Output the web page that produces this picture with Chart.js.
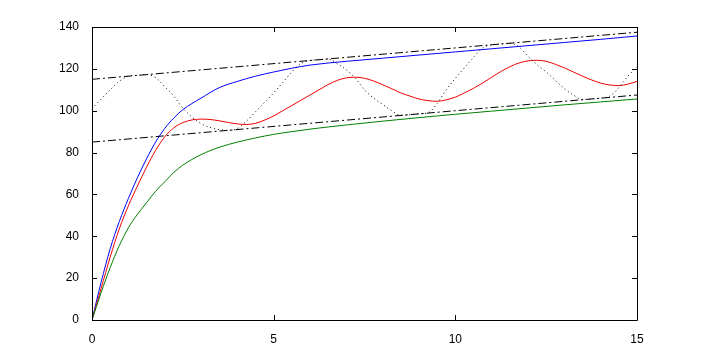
<!DOCTYPE html>
<html>
<head>
<meta charset="utf-8">
<script src="https://cdn.jsdelivr.net/npm/chart.js@4.4.0/dist/chart.umd.min.js"></script>
<style>
  html, body { margin: 0; padding: 0; background: #fff; }
  canvas { display: block; }
</style>
</head>
<body>
<canvas id="myChart" width="704" height="359"></canvas>
<script>
// x positions for the two smooth rising curves
const curveX = [0, 0.25, 0.5, 0.75, 1, 1.25, 1.5, 1.75, 2, 2.25, 2.5, 3, 3.5, 4, 4.5, 5, 5.5, 6, 7, 8, 9, 10, 11, 12, 13, 14, 15]
const blueY = [0, 18, 34, 47, 58, 68, 77, 85, 91.5, 96.5, 100.5, 106, 111, 114, 116.5, 118.5, 120.3, 121.8, 123.6, 125.1, 126.6, 128.1, 129.6, 131.1, 132.6, 134.1, 135.7]
const greenY = [0, 13, 25, 35.5, 44, 50.5, 56, 61.5, 66, 70.5, 74, 79, 82.5, 85, 87, 88.7, 90, 91.2, 93.2, 95, 96.7, 98.3, 99.8, 101.3, 102.8, 104.2, 105.6]

// x positions for the oscillating curves
const waveX = [0, 0.25, 0.5, 0.75, 1, 1.25, 1.5, 1.75, 2, 2.25, 2.5, 2.75, 3, 3.25, 3.5, 3.75, 4, 4.25, 4.5, 4.75,
  5, 5.25, 5.5, 5.75, 6, 6.25, 6.5, 6.75, 7, 7.25, 7.5, 7.75, 8, 8.25, 8.5, 8.75, 9, 9.25, 9.5, 9.75,
  10, 10.25, 10.5, 10.75, 11, 11.25, 11.5, 11.75, 12, 12.25, 12.5, 12.75, 13, 13.25, 13.5, 13.75, 14, 14.25, 14.5, 14.75, 15]
const redY = [0, 15, 30, 43.5, 54.5, 64, 73, 81, 87.5, 91.8, 94.3, 95.6, 96, 95.8, 95.2, 94.4, 93.7, 93.4, 94, 95.5,
  97.5, 100, 102.5, 105, 107.5, 110, 112.5, 114.5, 115.7, 116, 115.5, 114.2, 112.4, 110.5, 108.5, 107, 105.6, 104.8, 104.5, 105.2,
  106.5, 108.5, 110.7, 113.2, 116, 118.7, 121, 122.8, 123.8, 124.1, 123.6, 122.2, 120.5, 118.5, 116.5, 114.7, 113.2, 112.3, 112, 112.7, 114]
const dotY = [101, 105.5, 110, 114, 116.5, 116.9, 117.3, 115.8, 111.5, 107, 101.2, 97, 93.8, 92, 91, 90.6, 91.5, 95, 99.5, 104,
  108.5, 113.5, 118.5, 122.5, 124, 124.4, 124.7, 122.5, 119.5, 115.5, 110, 106, 103, 100, 97.8, 98.1, 98.5, 99, 103.5, 110,
  115.5, 120.5, 125.5, 130, 131.5, 131.9, 132.2, 130.5, 126, 122, 118.5, 114.5, 110.5, 107.5, 105.3, 105.6, 106, 107, 111, 116.5, 121]

// the two straight dash-dot bounds
const boundX = [0, 15]
const upperY = [115, 137.5]
const lowerY = [85, 107.5]

const xTicks = [0, 5, 10, 15]
const yTicks = [0, 20, 40, 60, 80, 100, 120, 140]

function pts(xs, ys) {
  return xs.map((x, i) => ({ x: x, y: ys[i] }))
}

function line(data, color, dash) {
  return {
    data: data,
    borderColor: color,
    borderWidth: 1,
    borderDash: dash || [],
    pointRadius: 0,
    fill: false,
    cubicInterpolationMode: 'monotone'
  }
}

// box + inward ticks, matlab style
const boxTicks = {
  id: 'boxTicks',
  afterDraw(chart) {
    const c = chart.ctx
    const a = chart.chartArea
    const sx = chart.scales.x
    const sy = chart.scales.y
    const len = 5
    c.save()
    c.strokeStyle = '#000'
    c.lineWidth = 1
    c.beginPath()
    c.rect(Math.round(a.left) + 0.5, Math.round(a.top) + 0.5, Math.round(a.right - a.left), Math.round(a.bottom - a.top))
    xTicks.forEach(v => {
      const px = Math.round(sx.getPixelForValue(v)) + 0.5
      c.moveTo(px, a.bottom); c.lineTo(px, a.bottom - len)
      c.moveTo(px, a.top); c.lineTo(px, a.top + len)
    })
    yTicks.forEach(v => {
      const py = Math.round(sy.getPixelForValue(v)) + 0.5
      c.moveTo(a.left, py); c.lineTo(a.left + len, py)
      c.moveTo(a.right, py); c.lineTo(a.right - len, py)
    })
    c.stroke()
    c.restore()
  }
}

const tickFont = { family: "'Liberation Sans', Arial, sans-serif", size: 12 }

new Chart(document.getElementById('myChart'), {
  type: 'line',
  data: {
    datasets: [
      line(pts(boundX, upperY), '#000000', [8, 3, 2, 3]),
      line(pts(boundX, lowerY), '#000000', [8, 3, 2, 3]),
      line(pts(waveX, dotY), '#000000', [1, 3]),
      line(pts(curveX, greenY), '#008000'),
      line(pts(waveX, redY), '#ee0000'),
      line(pts(curveX, blueY), '#0000ff')
    ]
  },
  options: {
    responsive: false,
    animation: false,
    layout: { padding: { left: 0, top: 27, right: 67, bottom: 0 } },
    plugins: { legend: { display: false }, tooltip: { enabled: false } },
    scales: {
      x: {
        type: 'linear',
        min: 0,
        max: 15,
        afterBuildTicks: s => { s.ticks = xTicks.map(v => ({ value: v })) },
        afterFit: s => { s.height = 39 },
        grid: { display: false },
        border: { display: false },
        ticks: { color: '#000', font: tickFont, padding: 4, maxRotation: 0 }
      },
      y: {
        min: 0,
        max: 140,
        afterBuildTicks: s => { s.ticks = yTicks.map(v => ({ value: v })) },
        afterFit: s => { s.width = 92 },
        grid: { display: false },
        border: { display: false },
        ticks: { color: '#000', font: tickFont, padding: 5 }
      }
    }
  },
  plugins: [boxTicks]
})
</script>
</body>
</html>
